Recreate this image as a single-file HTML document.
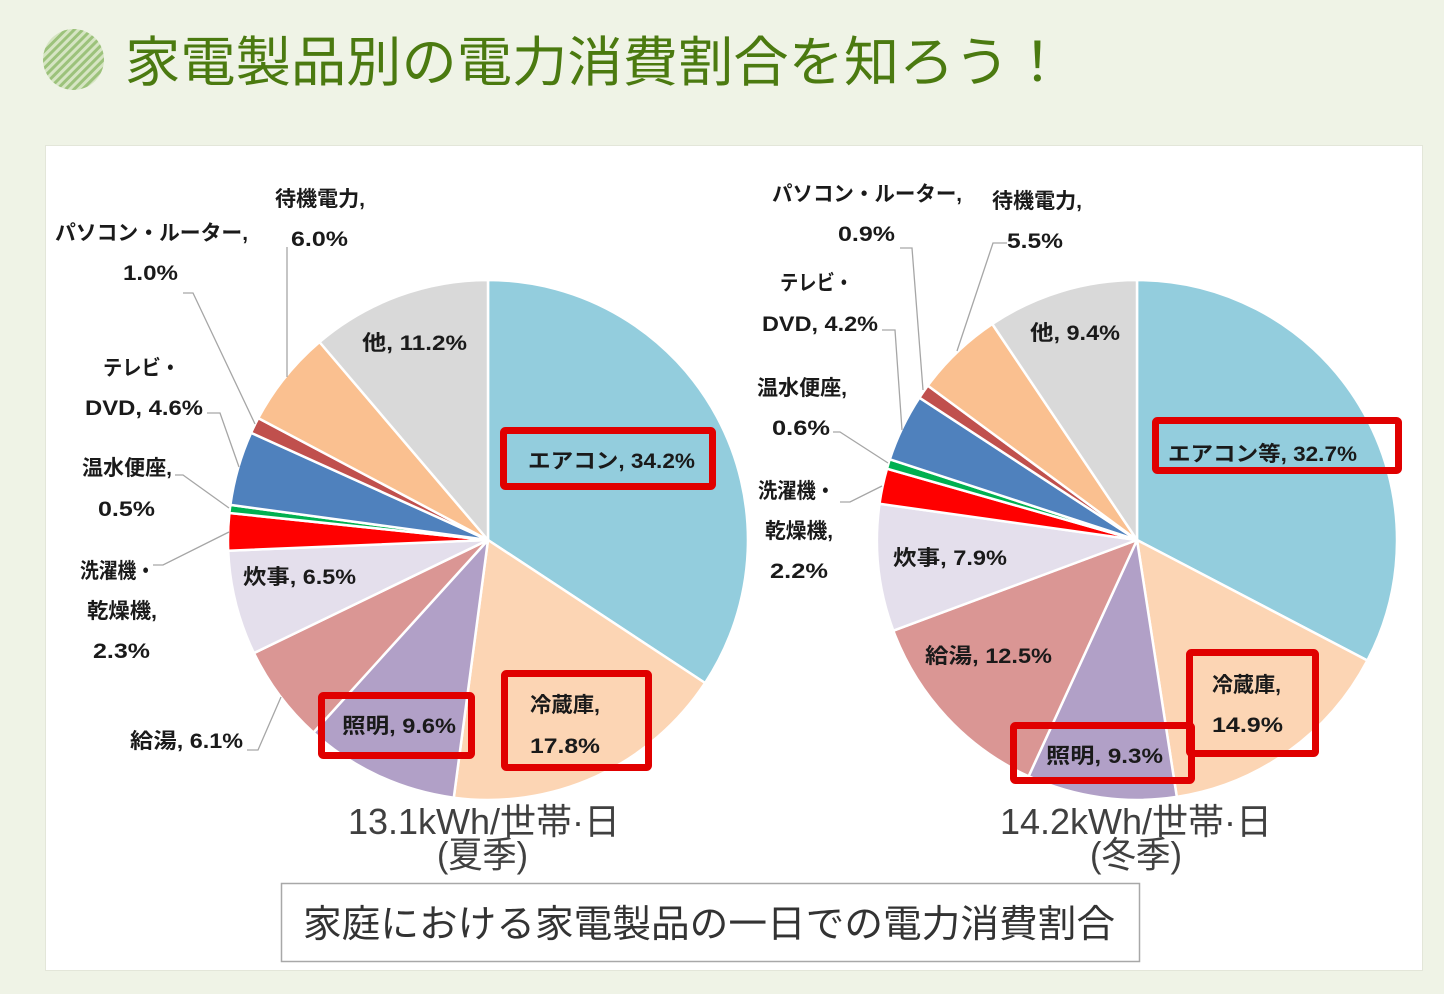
<!DOCTYPE html>
<html><head><meta charset="utf-8"><style>
html,body{margin:0;padding:0;background:#eff3e6;}
svg{display:block;}
.lb{font-family:"Liberation Sans","Noto Sans CJK JP",sans-serif;font-weight:bold;font-size:21px;fill:#1a1a1a;}
.cap{font-family:"Liberation Sans","Noto Sans CJK JP",sans-serif;font-size:36px;fill:#404040;}
.ll{stroke:#a6a6a6;stroke-width:1.3;fill:none;}
.rb{fill:none;stroke:#e00000;stroke-width:7;}
.sl path{stroke:#fff;stroke-width:2.5;stroke-linejoin:round;}
</style></head><body>
<svg width="1444" height="994" viewBox="0 0 1444 994" xmlns="http://www.w3.org/2000/svg">
<defs>
<pattern id="st" width="6" height="6" patternUnits="userSpaceOnUse" patternTransform="rotate(45)">
<rect width="6" height="6" fill="#d6e5c3"/>
<rect width="3" height="6" fill="#9cc27b"/>
</pattern>
</defs>
<rect x="0" y="0" width="1444" height="994" fill="#eff3e6"/>
<circle cx="73.5" cy="59.5" r="30.5" fill="url(#st)"/>
<text x="125" y="81" font-family="'Liberation Sans','Noto Sans CJK JP',sans-serif" font-size="54" fill="#4b7a10" textLength="940" lengthAdjust="spacingAndGlyphs">家電製品別の電力消費割合を知ろう！</text>

<rect x="45.5" y="145.5" width="1377" height="825" fill="#fff" stroke="#e3e6d9" stroke-width="1"/>

<!-- Left pie -->
<g class="sl" transform="translate(488,540)">
<path d="M0,0 L0,-260 A260,260 0 0 1 217.1,143.0 Z" fill="#93cddd"/>
<path d="M0,0 L217.1,143.0 A260,260 0 0 1 -34.2,257.7 Z" fill="#fcd5b4"/>
<path d="M0,0 L-34.2,257.7 A260,260 0 0 1 -174.6,192.6 Z" fill="#b1a0c7"/>
<path d="M0,0 L-174.6,192.6 A260,260 0 0 1 -234.1,113.1 Z" fill="#da9694"/>
<path d="M0,0 L-234.1,113.1 A260,260 0 0 1 -259.8,10.7 Z" fill="#e4dfec"/>
<path d="M0,0 L-259.8,10.7 A260,260 0 0 1 -258.6,-27.0 Z" fill="#ff0000"/>
<path d="M0,0 L-258.6,-27.0 A260,260 0 0 1 -257.6,-35.1 Z" fill="#00b050"/>
<path d="M0,0 L-257.6,-35.1 A260,260 0 0 1 -236.9,-107.2 Z" fill="#4f81bd"/>
<path d="M0,0 L-236.9,-107.2 A260,260 0 0 1 -229.7,-121.9 Z" fill="#c0504d"/>
<path d="M0,0 L-229.7,-121.9 A260,260 0 0 1 -168.5,-198.0 Z" fill="#fac090"/>
<path d="M0,0 L-168.5,-198.0 A260,260 0 0 1 0,-260 Z" fill="#d9d9d9"/>
</g>

<!-- Right pie -->
<g class="sl" transform="translate(1137,540)">
<path d="M0,0 L0,-260 A260,260 0 0 1 230.4,120.5 Z" fill="#93cddd"/>
<path d="M0,0 L230.4,120.5 A260,260 0 0 1 39.8,256.9 Z" fill="#fcd5b4"/>
<path d="M0,0 L39.8,256.9 A260,260 0 0 1 -108.4,236.3 Z" fill="#b1a0c7"/>
<path d="M0,0 L-108.4,236.3 A260,260 0 0 1 -243.7,90.7 Z" fill="#da9694"/>
<path d="M0,0 L-243.7,90.7 A260,260 0 0 1 -257.5,-36.2 Z" fill="#e4dfec"/>
<path d="M0,0 L-257.5,-36.2 A260,260 0 0 1 -250.0,-71.3 Z" fill="#ff0000"/>
<path d="M0,0 L-250.0,-71.3 A260,260 0 0 1 -247.2,-80.7 Z" fill="#00b050"/>
<path d="M0,0 L-247.2,-80.7 A260,260 0 0 1 -217.6,-142.3 Z" fill="#4f81bd"/>
<path d="M0,0 L-217.6,-142.3 A260,260 0 0 1 -209.2,-154.4 Z" fill="#c0504d"/>
<path d="M0,0 L-209.2,-154.4 A260,260 0 0 1 -144.7,-216.0 Z" fill="#fac090"/>
<path d="M0,0 L-144.7,-216.0 A260,260 0 0 1 0,-260 Z" fill="#d9d9d9"/>
</g>

<!-- Leader lines left -->
<polyline class="ll" points="287,247 287,377"/>
<polyline class="ll" points="183,293 193,293 255,424"/>
<polyline class="ll" points="207,413 220,413 239,467"/>
<polyline class="ll" points="175,475 183,475 229,508"/>
<polyline class="ll" points="153,565 163,565 229,532"/>
<polyline class="ll" points="247,750 258,750 281,697"/>
<!-- Leader lines right -->
<polyline class="ll" points="900,248 912,248 923,390"/>
<polyline class="ll" points="1007,243 993,243 957,351"/>
<polyline class="ll" points="882,330 895,330 902,430"/>
<polyline class="ll" points="833,432 840,432 888,463"/>
<polyline class="ll" points="840,502 850,502 882,486"/>

<!-- Left labels -->
<text class="lb" x="275" y="206" textLength="90" lengthAdjust="spacingAndGlyphs">待機電力,</text>
<text class="lb" x="291" y="246" textLength="57" lengthAdjust="spacingAndGlyphs">6.0%</text>
<text class="lb" x="55" y="240" textLength="193" lengthAdjust="spacingAndGlyphs">パソコン・ルーター,</text>
<text class="lb" x="123" y="280" textLength="55" lengthAdjust="spacingAndGlyphs">1.0%</text>
<text class="lb" x="362" y="350" textLength="105" lengthAdjust="spacingAndGlyphs">他, 11.2%</text>
<text class="lb" x="528" y="468" textLength="167" lengthAdjust="spacingAndGlyphs">エアコン, 34.2%</text>
<text class="lb" x="103" y="375" textLength="77" lengthAdjust="spacingAndGlyphs">テレビ・</text>
<text class="lb" x="85" y="415" textLength="118" lengthAdjust="spacingAndGlyphs">DVD, 4.6%</text>
<text class="lb" x="82" y="475" textLength="90" lengthAdjust="spacingAndGlyphs">温水便座,</text>
<text class="lb" x="98" y="516" textLength="57" lengthAdjust="spacingAndGlyphs">0.5%</text>
<text class="lb" x="80" y="578" textLength="75" lengthAdjust="spacingAndGlyphs">洗濯機・</text>
<text class="lb" x="87" y="618" textLength="70" lengthAdjust="spacingAndGlyphs">乾燥機,</text>
<text class="lb" x="93" y="658" textLength="57" lengthAdjust="spacingAndGlyphs">2.3%</text>
<text class="lb" x="243" y="584" textLength="113" lengthAdjust="spacingAndGlyphs">炊事, 6.5%</text>
<text class="lb" x="130" y="748" textLength="113" lengthAdjust="spacingAndGlyphs">給湯, 6.1%</text>
<text class="lb" x="342" y="733" textLength="114" lengthAdjust="spacingAndGlyphs">照明, 9.6%</text>
<text class="lb" x="530" y="712" textLength="70" lengthAdjust="spacingAndGlyphs">冷蔵庫,</text>
<text class="lb" x="530" y="753" textLength="70" lengthAdjust="spacingAndGlyphs">17.8%</text>

<!-- Right labels -->
<text class="lb" x="772" y="201" textLength="190" lengthAdjust="spacingAndGlyphs">パソコン・ルーター,</text>
<text class="lb" x="838" y="241" textLength="57" lengthAdjust="spacingAndGlyphs">0.9%</text>
<text class="lb" x="992" y="208" textLength="90" lengthAdjust="spacingAndGlyphs">待機電力,</text>
<text class="lb" x="1007" y="248" textLength="56" lengthAdjust="spacingAndGlyphs">5.5%</text>
<text class="lb" x="780" y="290" textLength="73" lengthAdjust="spacingAndGlyphs">テレビ・</text>
<text class="lb" x="762" y="331" textLength="116" lengthAdjust="spacingAndGlyphs">DVD, 4.2%</text>
<text class="lb" x="1030" y="340" textLength="90" lengthAdjust="spacingAndGlyphs">他, 9.4%</text>
<text class="lb" x="757" y="395" textLength="90" lengthAdjust="spacingAndGlyphs">温水便座,</text>
<text class="lb" x="772" y="435" textLength="58" lengthAdjust="spacingAndGlyphs">0.6%</text>
<text class="lb" x="758" y="498" textLength="77" lengthAdjust="spacingAndGlyphs">洗濯機・</text>
<text class="lb" x="765" y="538" textLength="68" lengthAdjust="spacingAndGlyphs">乾燥機,</text>
<text class="lb" x="770" y="578" textLength="58" lengthAdjust="spacingAndGlyphs">2.2%</text>
<text class="lb" x="893" y="565" textLength="114" lengthAdjust="spacingAndGlyphs">炊事, 7.9%</text>
<text class="lb" x="1168" y="461" textLength="189" lengthAdjust="spacingAndGlyphs">エアコン等, 32.7%</text>
<text class="lb" x="925" y="663" textLength="127" lengthAdjust="spacingAndGlyphs">給湯, 12.5%</text>
<text class="lb" x="1212" y="692" textLength="69" lengthAdjust="spacingAndGlyphs">冷蔵庫,</text>
<text class="lb" x="1212" y="732" textLength="71" lengthAdjust="spacingAndGlyphs">14.9%</text>
<text class="lb" x="1046" y="763" textLength="117" lengthAdjust="spacingAndGlyphs">照明, 9.3%</text>

<!-- Red boxes -->
<rect class="rb" x="503.5" y="430.5" width="209" height="56" rx="2"/>
<rect class="rb" x="321.5" y="695.5" width="150" height="60" rx="2"/>
<rect class="rb" x="504.5" y="673.5" width="144" height="94" rx="2"/>
<rect class="rb" x="1155.5" y="420.5" width="243" height="50" rx="2"/>
<rect class="rb" x="1189.5" y="652.5" width="126" height="101" rx="2"/>
<rect class="rb" x="1013.5" y="725.5" width="178" height="55" rx="2"/>

<!-- Captions -->
<text class="cap" x="348" y="834" textLength="272" lengthAdjust="spacingAndGlyphs">13.1kWh/世帯·日</text>
<text class="cap" x="437" y="867" font-size="34" textLength="91" lengthAdjust="spacingAndGlyphs">(夏季)</text>
<text class="cap" x="1000" y="834" textLength="272" lengthAdjust="spacingAndGlyphs">14.2kWh/世帯·日</text>
<text class="cap" x="1090" y="867" font-size="34" textLength="92" lengthAdjust="spacingAndGlyphs">(冬季)</text>

<rect x="281.5" y="883.5" width="858" height="78" fill="#fff" stroke="#a8a8a8" stroke-width="1.5"/>
<text x="303" y="937" font-family="'Liberation Sans','Noto Sans CJK JP',sans-serif" font-size="38" fill="#333" textLength="812" lengthAdjust="spacingAndGlyphs">家庭における家電製品の一日での電力消費割合</text>
</svg>
</body></html>
